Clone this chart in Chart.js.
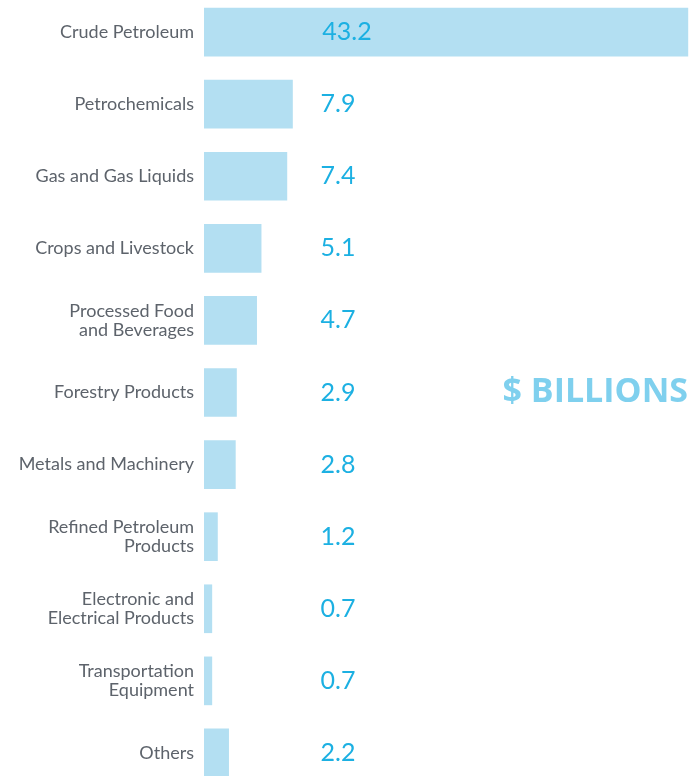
<!DOCTYPE html>
<html>
<head>
<meta charset="utf-8">
<script src="https://cdn.jsdelivr.net/npm/chart.js@4"></script>
<style>
  html, body { margin: 0; padding: 0; background: #ffffff; overflow: hidden; width: 689px; height: 776px; }
  #wrap { position: absolute; left: 0; top: -4px; width: 689px; height: 793px; }
</style>
</head>
<body>
<div id="wrap"><canvas id="c" width="689" height="793"></canvas></div>
<script>
const categories = [
  "Crude Petroleum",
  "Petrochemicals",
  "Gas and Gas Liquids",
  "Crops and Livestock",
  ["Processed Food", "and Beverages"],
  "Forestry Products",
  "Metals and Machinery",
  ["Refined Petroleum", "Products"],
  ["Electronic and", "Electrical Products"],
  ["Transportation", "Equipment"],
  "Others"
];
const values = [43.2, 7.9, 7.4, 5.1, 4.7, 2.9, 2.8, 1.2, 0.7, 0.7, 2.2];
const valueLabels = ["43.2", "7.9", "7.4", "5.1", "4.7", "2.9", "2.8", "1.2", "0.7", "0.7", "2.2"];
const unitLabel = "$ BILLIONS";

const valuePlugin = {
  id: 'valueLabels',
  afterDatasetsDraw(chart) {
    const ctx = chart.ctx;
    const area = chart.chartArea;
    const meta = chart.getDatasetMeta(0);
    ctx.save();
    ctx.fillStyle = '#1cb0e2';
    ctx.font = '400 25px Lato';
    ctx.textAlign = 'center';
    ctx.textBaseline = 'middle';
    meta.data.forEach((bar, i) => {
      ctx.fillText(valueLabels[i], area.left + (i === 0 ? 143 : 134), bar.y);
    });
    // unit label
    ctx.fillStyle = '#7fd0ee';
    ctx.font = 'bold 34px "Open Sans"';
    ctx.textAlign = 'right';
    const mid = meta.data[5].y;
    ctx.fillText(unitLabel, area.right - 1, mid);
    ctx.restore();
  }
};

new Chart(document.getElementById('c'), {
  type: 'bar',
  data: {
    labels: categories,
    datasets: [{
      data: values,
      backgroundColor: '#b3dff2',
      borderWidth: 0,
      barThickness: 48
    }]
  },
  options: {
    indexAxis: 'y',
    responsive: false,
    animation: false,
    layout: { padding: 0 },
    plugins: { legend: { display: false }, tooltip: { enabled: false } },
    scales: {
      x: {
        min: 0, max: 43.3,
        display: false
      },
      y: {
        afterFit(scale) {
          scale.width = 204;
          scale.paddingTop = 0;
          scale.paddingBottom = 0;
        },
        grid: { display: false, drawTicks: false },
        border: { display: false },
        ticks: {
          color: '#5d636b',
          font: { family: 'Lato', size: 18, lineHeight: 1.05 },
          padding: 10,
          autoSkip: false
        }
      }
    }
  },
  plugins: [valuePlugin]
});
</script>
</body>
</html>
